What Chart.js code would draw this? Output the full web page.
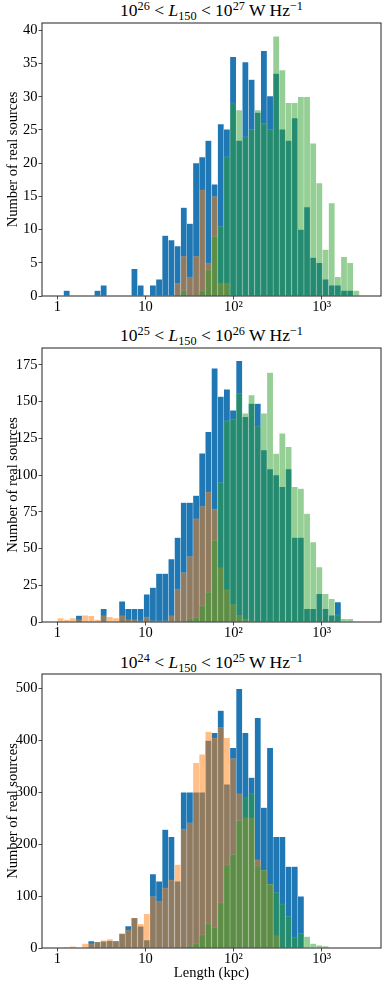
<!DOCTYPE html>
<html>
<head>
<meta charset="utf-8">
<script src="https://cdn.jsdelivr.net/npm/chart.js@4.4.1/dist/chart.umd.min.js"></script>
<style>
  html, body { margin: 0; padding: 0; background: #fff; }
  #fig { position: relative; width: 382px; height: 982px; overflow: hidden;
         font-family: "Liberation Serif", "DejaVu Serif", serif; color: #000; }
  #fig canvas { position: absolute; left: 0; }
  .ttl { position: absolute; left: 42px; width: 339px; text-align: center;
         font-size: 17.5px; line-height: 1; white-space: nowrap; }
  .ttl sup { font-size: 70%; vertical-align: 0.5em; line-height: 0; }
  .ttl sub { font-size: 70%; vertical-align: -0.3em; line-height: 0; }
</style>
</head>
<body>
<div id="fig">
  <div class="ttl" style="top:2px">10<sup>26</sup> &lt; <i>L</i><sub>150</sub> &lt; 10<sup>27</sup> W Hz<sup>−1</sup></div>
  <div class="ttl" style="top:327px">10<sup>25</sup> &lt; <i>L</i><sub>150</sub> &lt; 10<sup>26</sup> W Hz<sup>−1</sup></div>
  <div class="ttl" style="top:654px">10<sup>24</sup> &lt; <i>L</i><sub>150</sub> &lt; 10<sup>25</sup> W Hz<sup>−1</sup></div>
  <canvas id="c26" width="382" height="303" style="top:19px"></canvas>
  <canvas id="c25" width="382" height="304" style="top:344px"></canvas>
  <canvas id="c24" width="382" height="312" style="top:670px"></canvas>
</div>
<script>
// Histogramas de longitud (kpc) en tres rangos de luminosidad L150
// bins logarítmicos: 50 bins de 0.07 dex entre 1 y 10^3.5 kpc
const BIN_DEX = 0.07;

// ---- 10^26 < L150 < 10^27 ----
const blue26 = [
  0, 0.8, 0, 0, 0, 0, 0.8, 1.6, 0, 0,
  0, 0, 4.1, 1.6, 0, 1.6, 2.5, 9.1, 8.4, 7.5,
  13.3, 10.9, 20, 20.9, 23.4, 16.8, 25.9, 25.1, 36, 23.4,
  35.2, 32.6, 27.6, 36.9, 30.1, 33.5, 25.1, 23.4, 26.8, 10,
  13.4, 5.8, 5, 2.5, 1.6, 1.6, 0.8, 0.8, 0, 0
];
const orange26 = [
  0, 0, 0, 0, 0, 0, 0, 0, 0, 0,
  0, 0, 0, 0, 0, 0, 0, 0, 0, 1.9,
  6, 2.9, 6, 16, 5, 15, 1.9, 1.9, 0, 0,
  0, 0, 0, 0, 0, 0, 0, 0, 0, 0,
  0, 0, 0, 0, 0, 0, 0, 0, 0, 0
];
const green26 = [
  0, 0, 0, 0, 0, 0, 0, 0, 0, 0,
  0, 0, 0, 0, 0, 0, 0, 0, 0, 0,
  0.8, 0, 0, 0.8, 4, 9, 10.5, 21, 29.1, 28,
  24, 25.1, 28, 26, 25.1, 39.1, 34, 29.1, 29.1, 30,
  30, 23, 17, 7, 14, 2.9, 5.9, 5, 0.8, 0
];

// ---- 10^25 < L150 < 10^26 ----
const blue25 = [
  0, 0, 0, 4.4, 0, 0, 0, 9, 0, 0,
  14, 9, 9, 9, 18.8, 23.5, 33, 33, 42.8, 57.4,
  81.3, 81.3, 86, 114.7, 129.4, 172.6, 153.3, 158.3, 144, 177.6,
  139.6, 148.6, 148.6, 117, 104, 100, 92, 104, 57.4, 57.4,
  9, 9, 19.2, 9, 4.5, 13.5, 0, 0, 0, 0
];
const orange25 = [
  2.6, 1.7, 2.6, 1.7, 4.6, 4.2, 1.7, 4.4, 3.5, 2.6,
  4.4, 1.7, 1.7, 0.9, 3.5, 0.9, 0.9, 0.9, 4.4, 22.6,
  33.8, 44.7, 70.3, 78.8, 88.5, 77, 37, 22, 12, 4.5,
  2.2, 1, 0, 0, 0, 0, 0, 0, 0, 0,
  0, 0, 0, 0, 0, 0, 0, 0, 0, 0
];
const green25 = [
  0, 0, 0, 0, 0, 0, 0, 0, 0, 0,
  0, 0, 0, 0, 0, 0, 0, 0, 0, 0,
  0, 2.4, 3.3, 11.3, 20.3, 55.6, 95, 137, 138, 155.6,
  141.9, 154.4, 133.3, 141.9, 169.6, 114.6, 128.3, 119.2, 92, 90.8,
  73.8, 54.4, 37.4, 19.2, 15.8, 5, 2.2, 2.2, 0, 0
];

// ---- 10^24 < L150 < 10^25 ----
const blue24 = [
  0, 0, 0, 0, 0, 13.4, 12, 13, 14, 13.4,
  27.5, 42.1, 58, 41.5, 15, 142.4, 128.4, 228, 214, 128.4,
  299.5, 299.5, 299.5, 299.5, 399, 413.8, 456.6, 314.8, 385, 498.7,
  413.8, 327.6, 442.5, 270, 385, 214, 214, 156.4, 156.4, 99.6,
  0, 0, 0, 0, 0, 0, 0, 0, 0, 0
];
const orange24 = [
  0, 2, 3, 0, 8.3, 8.3, 12, 14.7, 17.2, 11.5,
  27.5, 35.1, 58, 46.6, 65.8, 99.6, 90, 115.6, 131, 160.3,
  229, 241.4, 356.3, 372.3, 416.3, 404, 424.6, 404, 364.6, 297,
  251, 250, 170, 150, 123, 24, 0, 0, 0, 0,
  0, 0, 0, 0, 0, 0, 0, 0, 0, 0
];
const green24 = [
  0, 0, 0, 0, 0, 0, 0, 0, 0, 0,
  0, 0, 0, 0, 0, 0, 0, 0, 0, 1,
  2, 4, 8.3, 25.5, 46.6, 40.2, 87, 160, 180, 245,
  289, 297, 158, 150, 123, 107, 85, 61, 21, 28,
  22, 8.3, 5, 3.8, 0, 0, 0, 0, 0, 0
];

// ticks (eje x en log10 de kpc)
const xTickValues = [0, 1, 2, 3];
const xTickLabels = ['1', '10', '10²', '10³'];
const yTicks26 = [0, 5, 10, 15, 20, 25, 30, 35, 40];
const yTicks25 = [0, 25, 50, 75, 100, 125, 150, 175];
const yTicks24 = [0, 100, 200, 300, 400, 500];

const X_MIN = -0.175, X_MAX = 3.675;
const FONT = '"Liberation Serif", "DejaVu Serif", serif';

// centro de cada bin en dex
const binCentres = blue26.map((_, k) => (k + 0.5) * BIN_DEX);

// marco completo (spines) alrededor del área del gráfico
const framePlugin = {
    id: 'frame',
    afterDraw: function (chart) {
        const { ctx, chartArea: a } = chart;
        ctx.save();
        ctx.strokeStyle = '#222';
        ctx.lineWidth = 1;
        ctx.strokeRect(a.left, a.top, a.right - a.left, a.bottom - a.top);
        ctx.restore();
    }
};

function toPoints(counts) {
    return counts.map((c, k) => ({ x: binCentres[k], y: c }));
}

function makePanel(canvasId, blue, orange, green, yMax, yTicks, xAxisHeight, showXTitle) {
    const ctx = document.getElementById(canvasId);
    return new Chart(ctx, {
        type: 'bar',
        data: {
            datasets: [
                { data: toPoints(blue), backgroundColor: '#1f77b4', borderColor: 'rgba(255,255,255,0.28)', order: 3 },
                { data: toPoints(orange), backgroundColor: 'rgba(255,127,14,0.5)', borderColor: 'rgba(255,255,255,0.15)', order: 2 },
                { data: toPoints(green), backgroundColor: 'rgba(44,160,44,0.5)', borderColor: 'rgba(255,255,255,0.15)', order: 1 }
            ]
        },
        options: {
            responsive: false,
            animation: false,
            devicePixelRatio: 1,
            layout: { padding: { top: 4, right: 1, left: 0, bottom: 0 } },
            datasets: {
                bar: { grouped: false, barPercentage: 1, categoryPercentage: 1, borderWidth: 0.5, borderSkipped: 'start' }
            },
            plugins: { legend: { display: false }, tooltip: { enabled: false } },
            scales: {
                x: {
                    type: 'linear', min: X_MIN, max: X_MAX, offset: false,
                    afterBuildTicks: s => { s.ticks = xTickValues.map(v => ({ value: v })); },
                    afterFit: s => { s.height = xAxisHeight; s.paddingLeft = 0; s.paddingRight = 0; },
                    ticks: {
                        autoSkip: false, maxRotation: 0, padding: 0, color: '#000',
                        font: { family: FONT, size: 14.5, lineHeight: 1 },
                        callback: (v, i) => xTickLabels[i]
                    },
                    grid: { drawOnChartArea: false, drawTicks: true, tickLength: 3.5, color: '#222', lineWidth: 0.8, offset: false },
                    border: { display: false },
                    title: {
                        display: showXTitle, text: 'Length (kpc)', color: '#000',
                        font: { family: FONT, size: 14.5 }, padding: { top: 0, bottom: 0 }
                    }
                },
                y: {
                    min: 0, max: yMax,
                    afterBuildTicks: s => { s.ticks = yTicks.map(v => ({ value: v })); },
                    afterFit: s => { s.width = 42; s.paddingTop = 0; s.paddingBottom = 0; },
                    ticks: { padding: 1, color: '#000', font: { family: FONT, size: 14.5 } },
                    grid: { drawOnChartArea: false, drawTicks: true, tickLength: 3.5, color: '#222', lineWidth: 0.8 },
                    border: { display: false },
                    title: {
                        display: true, text: 'Number of real sources', color: '#000',
                        font: { family: FONT, size: 14.5 }, padding: { top: 4, bottom: 0 }
                    }
                }
            }
        },
        plugins: [framePlugin]
    });
}

makePanel('c26', blue26, orange26, green26, 41.1, yTicks26, 26, false);
makePanel('c25', blue25, orange25, green25, 186.4, yTicks25, 26, false);
makePanel('c24', blue24, orange24, green24, 527, yTicks24, 34, true);
</script>
</body>
</html>
